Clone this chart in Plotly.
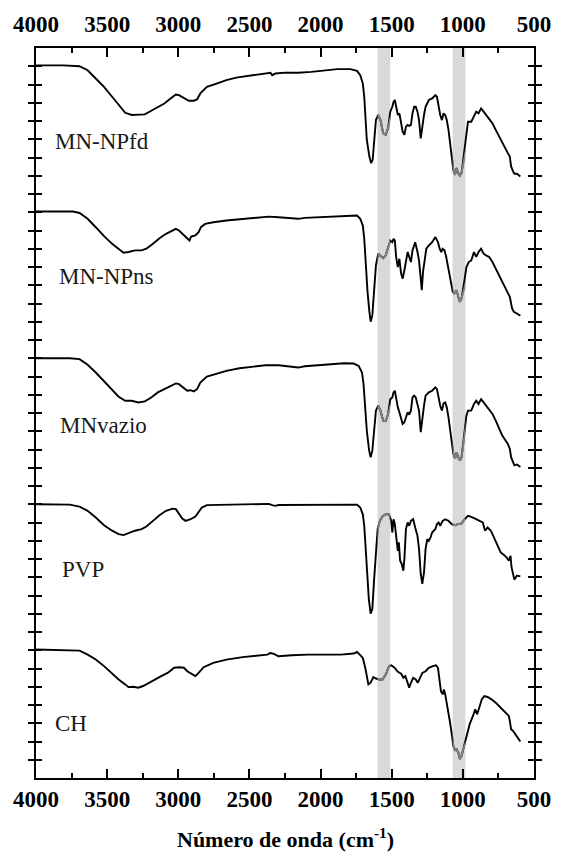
import plotly.graph_objects as go

# ---- data (wavenumber cm-1, relative transmittance in stacked units) ----
names = ["MN-NPfd", "MN-NPns", "MNvazio", "PVP", "CH"]
offsets = [39, 31, 23, 15, 7]

wn_fd = [4000,3809,3694,3637,3580,3522,3465,3419,3373,3327,3281,3235,3190,3144,3098,3052,3017,2995,2960,2926,2891,2868,2845,2799,2731,2662,2593,2524,2432,2386,2352,2340,2318,2249,2157,2065,1973,1882,1790,1744,1721,1703,1693,1686,1675,1657,1645,1634,1622,1611,1595,1579,1560,1542,1526,1510,1496,1487,1478,1469,1457,1446,1434,1423,1411,1400,1388,1377,1365,1354,1342,1331,1319,1308,1296,1285,1273,1262,1239,1216,1193,1182,1170,1159,1147,1136,1124,1113,1101,1090,1078,1067,1055,1044,1032,1021,1009,998,987,975,964,941,922,906,890,872,854,837,815,792,769,746,723,700,684,670,661,647,638,620,596]
t_fd = [0.05,0.05,0,-0.22,-0.67,-1.13,-1.67,-2.13,-2.55,-2.67,-2.67,-2.64,-2.44,-2.22,-2.04,-1.76,-1.55,-1.58,-1.76,-1.89,-1.89,-1.82,-1.49,-1.13,-0.95,-0.76,-0.62,-0.55,-0.44,-0.40,-0.36,-0.49,-0.40,-0.35,-0.36,-0.31,-0.22,-0.16,-0.16,-0.25,-0.49,-0.95,-1.67,-2.95,-4.04,-4.95,-5.31,-5.13,-4.04,-2.95,-2.67,-2.95,-3.67,-3.76,-3.40,-2.49,-2.22,-1.95,-1.85,-2.31,-2.67,-2.58,-3.13,-3.58,-3.76,-3.31,-3.22,-3.27,-3.22,-2.58,-2.22,-2.22,-2.49,-2.95,-3.95,-3.22,-2.67,-2.22,-1.85,-1.76,-1.58,-1.67,-2.22,-2.67,-2.95,-2.58,-2.67,-2.95,-3.49,-4.13,-4.95,-5.67,-5.95,-5.58,-5.85,-6.00,-5.85,-5.13,-4.40,-3.49,-3.04,-3.04,-2.76,-2.49,-2.58,-2.31,-2.49,-2.67,-2.85,-3.13,-3.49,-3.85,-4.22,-4.49,-4.76,-4.95,-5.49,-5.76,-5.89,-5.89,-6.04]

wn_ns = [4000,3740,3694,3637,3580,3522,3465,3419,3385,3350,3304,3258,3224,3178,3132,3086,3040,3017,2995,2960,2937,2921,2910,2880,2857,2841,2811,2754,2662,2547,2432,2364,2295,2203,2157,2111,2019,1927,1836,1744,1721,1703,1693,1684,1670,1657,1648,1636,1625,1611,1595,1579,1560,1542,1526,1510,1496,1487,1478,1469,1457,1446,1434,1423,1411,1400,1388,1377,1365,1354,1335,1319,1308,1296,1289,1280,1269,1257,1239,1216,1193,1175,1163,1152,1142,1129,1117,1101,1083,1071,1060,1044,1032,1021,1009,998,987,975,959,941,922,906,890,872,854,837,815,792,769,746,723,700,684,670,654,642,620,596]
t_ns = [0.04,0.04,-0.04,-0.36,-0.82,-1.31,-1.73,-2.04,-2.22,-2.18,-2.09,-2.09,-2.00,-1.73,-1.42,-1.18,-1.00,-0.91,-1.00,-1.27,-1.45,-1.55,-1.33,-1.27,-1.09,-0.82,-0.64,-0.55,-0.45,-0.36,-0.27,-0.24,-0.27,-0.31,-0.36,-0.31,-0.27,-0.22,-0.18,-0.18,-0.36,-0.73,-1.45,-2.91,-4.36,-5.45,-6.00,-5.64,-4.36,-2.91,-2.27,-2.36,-2.51,-2.36,-2.00,-1.55,-1.64,-1.45,-1.55,-2.45,-3.00,-2.55,-3.36,-3.64,-3.18,-2.73,-2.18,-2.45,-2.73,-2.09,-1.64,-2.18,-2.64,-3.64,-4.27,-3.27,-2.64,-2.00,-1.82,-1.64,-1.36,-1.64,-2.00,-2.18,-2.00,-2.09,-2.45,-3.09,-3.82,-4.36,-4.45,-4.27,-4.64,-4.91,-4.73,-4.27,-3.64,-3.00,-2.73,-2.64,-2.18,-2.45,-2.18,-2.00,-2.27,-2.36,-2.45,-2.73,-3.09,-3.45,-3.82,-4.09,-4.36,-4.64,-5.27,-5.45,-5.55,-5.67]

wn_vz = [4000,3763,3694,3637,3580,3522,3465,3419,3373,3327,3281,3235,3190,3144,3098,3052,3017,2995,2960,2937,2914,2891,2868,2845,2799,2731,2662,2570,2478,2386,2295,2203,2157,2111,2019,1927,1836,1767,1732,1709,1698,1686,1675,1659,1648,1636,1625,1611,1595,1579,1560,1542,1526,1510,1496,1487,1478,1469,1457,1446,1434,1423,1411,1400,1388,1377,1365,1354,1342,1331,1319,1308,1296,1285,1273,1262,1239,1216,1193,1182,1170,1159,1147,1136,1124,1113,1101,1090,1078,1067,1055,1044,1032,1021,1009,998,987,975,964,941,922,906,890,872,854,837,815,792,769,746,723,700,684,670,661,647,638,620,596]
t_vz = [0,0,-0.05,-0.36,-0.78,-1.27,-1.78,-2.11,-2.33,-2.33,-2.42,-2.36,-2.15,-1.87,-1.69,-1.51,-1.38,-1.42,-1.64,-1.78,-1.75,-1.82,-1.69,-1.33,-1.00,-0.84,-0.69,-0.55,-0.45,-0.38,-0.38,-0.44,-0.51,-0.44,-0.40,-0.33,-0.27,-0.29,-0.42,-0.78,-1.42,-2.87,-3.96,-5.05,-5.42,-5.05,-3.96,-2.87,-2.60,-2.87,-3.42,-3.45,-3.05,-2.25,-2.15,-1.87,-1.78,-2.24,-2.69,-2.96,-3.24,-3.60,-3.51,-3.24,-2.96,-3.09,-2.87,-2.15,-2.05,-2.15,-2.51,-2.87,-4.05,-3.15,-2.60,-2.05,-1.87,-1.78,-1.60,-1.69,-2.24,-2.60,-2.87,-2.47,-2.42,-2.69,-3.24,-3.96,-4.69,-5.24,-5.51,-5.15,-5.42,-5.60,-5.42,-4.69,-3.87,-3.15,-2.87,-2.87,-2.51,-2.33,-2.51,-2.24,-2.42,-2.60,-2.78,-3.05,-3.42,-3.87,-4.24,-4.51,-4.69,-4.96,-5.42,-5.69,-5.87,-5.82,-5.96]

wn_pvp = [4000,3763,3694,3637,3580,3522,3465,3419,3385,3350,3304,3258,3224,3178,3132,3086,3040,3017,2995,2972,2949,2914,2880,2857,2834,2799,2708,2547,2432,2375,2364,2340,2318,2295,2203,2088,1973,1859,1744,1721,1703,1693,1684,1675,1661,1648,1636,1625,1611,1599,1583,1565,1542,1519,1503,1496,1487,1478,1469,1457,1450,1441,1430,1418,1411,1400,1388,1377,1365,1349,1335,1319,1308,1296,1285,1273,1262,1250,1239,1227,1216,1193,1182,1170,1159,1142,1124,1101,1078,1055,1032,1009,987,964,941,922,906,883,860,844,826,803,780,757,734,711,693,677,665,658,647,638,620,596]
t_pvp = [0,-0.02,-0.13,-0.36,-0.73,-1.15,-1.45,-1.64,-1.69,-1.58,-1.45,-1.36,-1.22,-0.91,-0.60,-0.36,-0.24,-0.27,-0.49,-0.78,-0.91,-0.82,-0.67,-0.45,-0.18,-0.05,-0.04,-0.02,-0.02,0,0.02,-0.05,-0.09,-0.04,-0.04,-0.02,0,0,-0.02,-0.18,-0.55,-1.18,-2.45,-3.91,-5.18,-6.00,-5.73,-4.27,-2.45,-1.36,-0.91,-0.67,-0.55,-0.55,-0.91,-1.55,-0.82,-1.09,-1.73,-2.55,-2.09,-3.09,-3.27,-3.64,-3.00,-1.36,-1.00,-1.18,-0.91,-0.82,-1.27,-1.73,-2.45,-3.82,-4.36,-3.73,-2.45,-1.91,-2.00,-1.82,-1.55,-1.36,-1.09,-1.00,-1.18,-0.91,-0.82,-0.91,-1.09,-1.15,-1.09,-1.05,-0.82,-0.64,-0.69,-0.78,-0.82,-0.91,-1.00,-1.45,-1.27,-1.45,-1.82,-2.18,-2.64,-2.78,-2.91,-3.09,-2.82,-3.45,-3.91,-4.13,-3.91,-3.95]

wn_ch = [4000,3740,3694,3637,3580,3522,3465,3419,3373,3350,3316,3281,3247,3201,3155,3120,3075,3029,2995,2960,2937,2903,2880,2857,2822,2754,2662,2547,2432,2375,2352,2329,2295,2203,2088,1973,1859,1767,1744,1721,1703,1686,1675,1664,1648,1629,1611,1588,1565,1542,1519,1503,1480,1457,1434,1418,1404,1393,1377,1365,1349,1331,1317,1303,1285,1262,1239,1211,1189,1175,1166,1154,1142,1133,1124,1113,1101,1090,1078,1067,1055,1044,1032,1021,1009,998,987,968,952,929,913,899,883,867,849,826,799,769,734,700,677,670,661,647,631,608,596]
t_ch = [0.04,0.02,-0.02,-0.24,-0.51,-0.87,-1.29,-1.60,-1.87,-2.02,-2.00,-2.05,-1.96,-1.78,-1.60,-1.42,-1.24,-0.96,-0.93,-0.96,-1.15,-1.33,-1.42,-1.24,-0.93,-0.69,-0.51,-0.38,-0.29,-0.24,-0.15,-0.20,-0.33,-0.27,-0.24,-0.24,-0.24,-0.18,-0.09,-0.27,-0.42,-0.96,-1.51,-1.87,-1.78,-1.47,-1.55,-1.60,-1.60,-1.33,-0.87,-0.82,-0.96,-1.18,-1.29,-1.51,-1.42,-1.69,-2.05,-1.78,-1.51,-1.60,-1.78,-1.55,-1.24,-1.15,-0.96,-0.87,-0.82,-0.96,-1.51,-2.24,-2.42,-2.15,-2.42,-2.87,-3.42,-3.96,-4.60,-5.24,-5.47,-5.42,-5.60,-5.96,-5.78,-5.42,-5.05,-4.51,-4.05,-3.60,-3.24,-3.51,-3.05,-2.69,-2.51,-2.56,-2.69,-2.87,-3.15,-3.42,-3.60,-3.87,-4.33,-4.42,-4.60,-4.87,-5.00]

spectra = [(wn_fd, t_fd), (wn_ns, t_ns), (wn_vz, t_vz), (wn_pvp, t_pvp), (wn_ch, t_ch)]
label_x = [3878, 3855, 3843, 3832, 3878]
label_dy = [-4.1, -3.5, -3.7, -3.6, -4.0]

bands = [(1600, 1510), (1072, 982)]
x_ticks = [4000, 3500, 3000, 2500, 2000, 1500, 1000, 500]
x_minor = [3750, 3250, 2750, 2250, 1750, 1250, 750]
x_title = "Número de onda (cm<sup>-1</sup>)"

XMIN, XMAX = 4000, 500
YMIN, YMAX = 0, 40
SERIF = "Liberation Serif"

fig = go.Figure()

for (wn, t), off in zip(spectra, offsets):
    ys = [off + v for v in t]
    fig.add_trace(go.Scatter(x=wn, y=ys, mode="lines",
                             line=dict(color="black", width=1.9),
                             xaxis="x", yaxis="y", showlegend=False, hoverinfo="skip"))
    # grey part inside the highlighted bands (clipped by the band sub-plots)
    for bi, _ in enumerate(bands):
        fig.add_trace(go.Scatter(x=wn, y=ys, mode="lines",
                                 line=dict(color="#808080", width=1.9),
                                 xaxis=f"x{bi + 2}", yaxis=f"y{bi + 2}",
                                 showlegend=False, hoverinfo="skip"))

# invisible trace so the top (label) axis is drawn
fig.add_trace(go.Scatter(x=[XMIN, XMAX], y=[YMIN, YMIN], mode="markers",
                         marker=dict(opacity=0), xaxis="x4", yaxis="y",
                         showlegend=False, hoverinfo="skip"))

# grey bands
for hi, lo in bands:
    fig.add_shape(type="rect", xref="x", yref="paper", x0=hi, x1=lo, y0=0, y1=1,
                  fillcolor="#d9d9d9", line=dict(width=0), layer="below")

# labels
for name, lx, dy, off in zip(names, label_x, label_dy, offsets):
    fig.add_annotation(x=lx, y=off + dy, xref="x", yref="y", text=name, showarrow=False,
                       xanchor="left", yanchor="middle",
                       font=dict(family=SERIF, size=23, color="#1a1a1a"))

fig.add_annotation(x=0.5, y=-0.082, xref="paper", yref="paper", text=x_title, showarrow=False,
                   xanchor="center", yanchor="middle",
                   font=dict(family=SERIF, size=22, color="black", weight="bold"))

axis_common = dict(range=[XMIN, XMAX], tickmode="array", tickvals=x_ticks,
                   ticks="inside", ticklen=9, tickwidth=1.5, tickcolor="black",
                   minor=dict(ticks="inside", ticklen=5, tickwidth=1.5, tickcolor="black",
                              tickmode="array", tickvals=x_minor),
                   showgrid=False, zeroline=False,
                   tickfont=dict(family=SERIF, size=23, color="black", weight="bold"))

def band_domain(hi, lo):
    return [(XMIN - hi) / (XMIN - XMAX), (XMIN - lo) / (XMIN - XMAX)]

hidden = dict(visible=False, showgrid=False, zeroline=False)

fig.update_layout(
    width=563, height=855,
    margin=dict(l=36, r=20, t=48, b=77),
    font=dict(family=SERIF),
    paper_bgcolor="white", plot_bgcolor="rgba(0,0,0,0)",
    xaxis=dict(**axis_common, side="bottom", showline=True, linewidth=1.5, linecolor="black",
               mirror=True, domain=[0, 1], anchor="y"),
    xaxis2=dict(range=[bands[0][0], bands[0][1]], domain=band_domain(*bands[0]), anchor="y2", **hidden),
    xaxis3=dict(range=[bands[1][0], bands[1][1]], domain=band_domain(*bands[1]), anchor="y3", **hidden),
    xaxis4=dict(**axis_common, side="top", overlaying="x", showline=False, anchor="y",
                ticklabelstandoff=10),
    yaxis=dict(range=[YMIN, YMAX], tickmode="linear", tick0=0, dtick=1, ticks="inside", ticklen=6,
               tickwidth=1.5, tickcolor="black", showticklabels=False, showgrid=False,
               zeroline=False, showline=True, linewidth=1.5, linecolor="black",
               mirror="allticks", domain=[0, 1], anchor="x"),
    yaxis2=dict(range=[YMIN, YMAX], domain=[0, 1], anchor="x2", **hidden),
    yaxis3=dict(range=[YMIN, YMAX], domain=[0, 1], anchor="x3", **hidden),
    showlegend=False,
)

fig.write_html("out.html")
